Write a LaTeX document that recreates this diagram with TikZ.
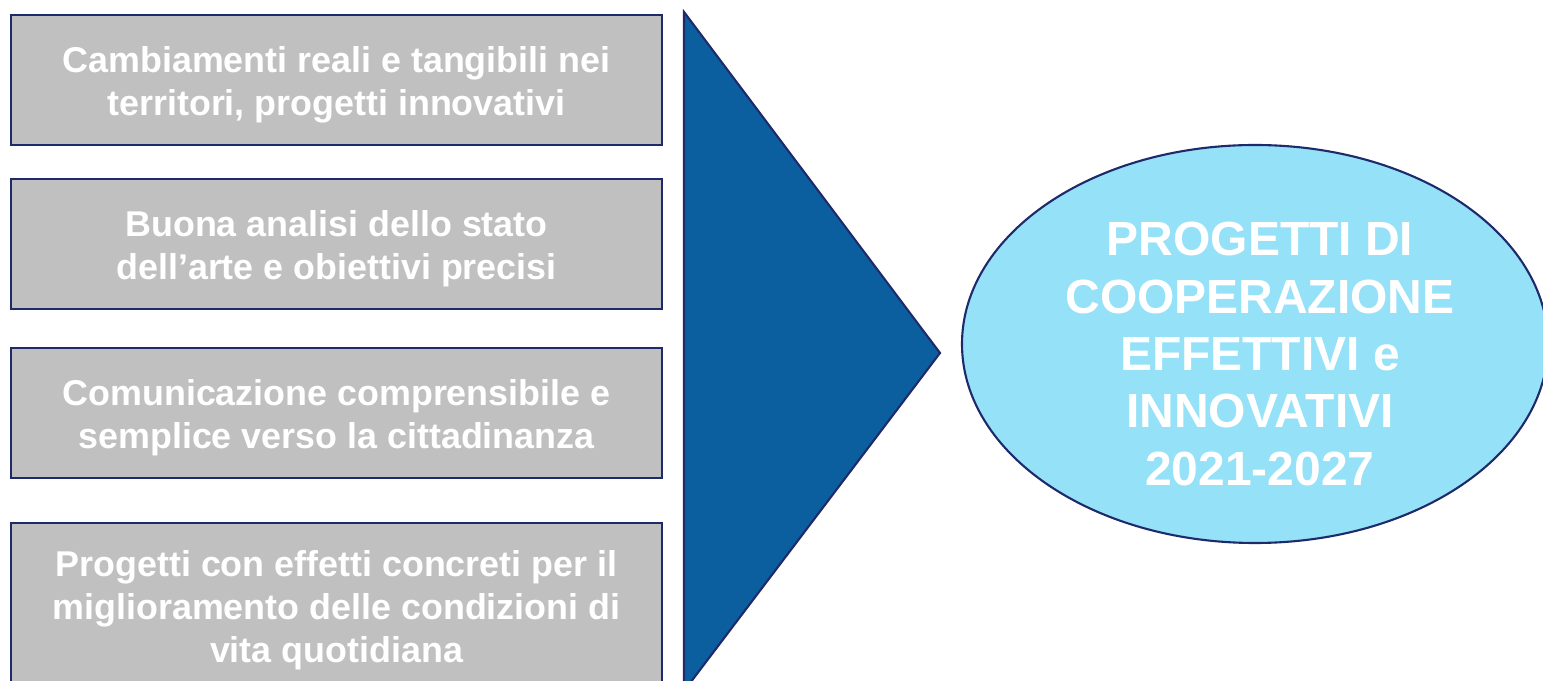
\documentclass[tikz,border=0pt]{standalone}
\usepackage{fontspec}
\setmainfont{Liberation Sans}
\usetikzlibrary{shapes}
\usetikzlibrary{positioning}
\definecolor{navy}{HTML}{1F2A6B}
\definecolor{boxgray}{HTML}{C0C0C0}
\definecolor{arrowblue}{HTML}{0C5F9E}
\definecolor{skyblue}{HTML}{94E1F8}

\begin{document}
\begin{tikzpicture}
            \tikzset{every node/.style={align=center, text=white, font=\bfseries},
                    criterion/.style={rectangle, draw=navy, line width=0.6pt, fill=boxgray,
                        minimum width=6.51cm, minimum height=1.3cm},
                    criteriontext/.style={font=\fontsize{10.2}{12.25}\selectfont\bfseries},
                    goal/.style={ellipse, draw=navy, line width=0.6pt, fill=skyblue,
                        minimum width=5.86cm, minimum height=3.98cm, inner sep=0pt},
                    goaltext/.style={font=\fontsize{13.65}{16.3}\selectfont\bfseries}}
            \useasboundingbox (0,0) rectangle (15.43,6.81);
            \clip (0,0) rectangle (15.43,6.81);
            \node[criterion] (1) at (3.365, 6.01) {};
            \node[criterion] (2) at (3.365, 4.37) {};
            \node[criterion] (3) at (3.365, 2.68) {};
            \node[criterion, minimum height=1.66cm] (4) at (3.365, 0.75) {};
            \node[criteriontext] (1t) at ([yshift=-0.045cm]1) {Cambiamenti reali e tangibili nei\\territori, progetti innovativi};
            \node[criteriontext] (2t) at ([yshift=-0.045cm]2) {Buona analisi dello stato\\dell’arte e obiettivi precisi};
            \node[criteriontext] (3t) at ([yshift=-0.045cm]3) {Comunicazione comprensibile e\\semplice verso la cittadinanza};
            \node[criteriontext] (4t) at ([yshift=-0.04cm]4) {Progetti con effetti concreti per il\\miglioramento delle condizioni di\\vita quotidiana};
            \draw[navy, line width=0.6pt, fill=arrowblue] (6.84, 6.69) -- (9.40, 3.28) -- (6.84, -0.1) -- cycle;
            \node[goal] (5) at (12.55, 3.37) {};
            \node[goaltext] (5t) at ([xshift=0.05cm, yshift=-0.1cm]5) {PROGETTI DI\\COOPERAZIONE\\EFFETTIVI e\\INNOVATIVI\\2021-2027};
        \end{tikzpicture}
\end{document}
